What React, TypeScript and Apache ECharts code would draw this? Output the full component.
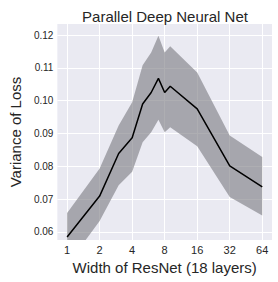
import React, { useEffect, useRef } from "react";
import * as echarts from "echarts";

const widths = [1, 2, 3, 4, 5, 6, 7, 8, 9, 16, 32, 64];
const meanVar = [0.0584, 0.0709, 0.0839, 0.0887, 0.099, 0.1025, 0.1068, 0.1025, 0.1044, 0.0975, 0.0801, 0.0737];
const upperVar = [0.0657, 0.0793, 0.0924, 0.0995, 0.1108, 0.1147, 0.1198, 0.1147, 0.1166, 0.1086, 0.0894, 0.0828];
const lowerVar = [0.0498, 0.0633, 0.0742, 0.0783, 0.0873, 0.0904, 0.0942, 0.0904, 0.0919, 0.0861, 0.0706, 0.065];
const xTicks = [1, 2, 4, 8, 16, 32, 64];
const yTicks = [0.06, 0.07, 0.08, 0.09, 0.1, 0.11, 0.12];

const TEXT = "#262626";
const FONT = "Liberation Sans, Arial, sans-serif";

export default function App() {
  const ref = useRef<HTMLDivElement>(null);
  useEffect(() => {
    if (!ref.current) return;
    const chart = echarts.init(ref.current, null, { renderer: "svg" });
    const lx = widths.map((w) => Math.log2(w));
    const bandData = widths.map((w, i) => [lx[i], lowerVar[i], upperVar[i]]);
    chart.setOption({
      animation: false,
      backgroundColor: "#ffffff",
      textStyle: { fontFamily: FONT, color: TEXT },
      title: {
        text: "Parallel Deep Neural Net",
        left: 160,
        textAlign: "center",
        top: 4,
        textStyle: { fontSize: 15, fontWeight: "normal", color: TEXT, fontFamily: FONT },
      },
      grid: {
        left: 48,
        right: 6,
        top: 24,
        bottom: 42,
        show: true,
        backgroundColor: "#EAEAF2",
        borderWidth: 0,
      },
      xAxis: {
        type: "value",
        min: -0.3,
        max: 6.3,
        name: "Width of ResNet (18 layers)",
        nameLocation: "middle",
        nameGap: 20,
        nameTextStyle: { fontSize: 15, color: TEXT, fontFamily: FONT },
        axisLine: { show: false },
        axisTick: { show: false, customValues: xTicks.map((t) => Math.log2(t)) },
        axisLabel: {
          customValues: xTicks.map((t) => Math.log2(t)),
          formatter: (v: number) => String(Math.round(Math.pow(2, v))),
          fontSize: 11,
          color: TEXT,
          margin: 4,
          fontFamily: FONT,
        },
        splitLine: { show: true, lineStyle: { color: "#ffffff", width: 1 } },
      },
      yAxis: {
        type: "value",
        min: 0.0575,
        max: 0.1234,
        name: "Variance of Loss",
        nameLocation: "middle",
        nameGap: 30,
        nameTextStyle: { fontSize: 15, color: TEXT, fontFamily: FONT },
        axisLine: { show: false },
        axisTick: { show: false, customValues: yTicks },
        axisLabel: {
          customValues: yTicks,
          formatter: (v: number) => v.toFixed(2),
          fontSize: 10,
          color: TEXT,
          margin: 4,
          fontFamily: FONT,
        },
        splitLine: { show: true, lineStyle: { color: "#ffffff", width: 1 } },
      },
      series: [
        {
          type: "custom",
          clip: true,
          data: bandData,
          encode: { x: 0, y: [1, 2] },
          renderItem: (params: any, api: any) => {
            if (params.dataIndex !== 0) return null;
            const top = bandData.map((d) => api.coord([d[0], d[2]]));
            const bot = bandData.map((d) => api.coord([d[0], d[1]])).reverse();
            return {
              type: "polygon",
              shape: { points: top.concat(bot) },
              style: { fill: "rgba(125,124,130,0.62)", stroke: "none" },
            };
          },
          z: 2,
        },
        {
          type: "line",
          data: widths.map((w, i) => [lx[i], meanVar[i]]),
          showSymbol: false,
          symbol: "none",
          lineStyle: { color: "#000000", width: 1.5 },
          clip: true,
          z: 3,
        },
      ],
    });
    return () => chart.dispose();
  }, []);
  return (
    <div
      ref={ref}
      style={{ position: "fixed", left: 0, top: 0, width: 278, height: 282 }}
    />
  );
}
